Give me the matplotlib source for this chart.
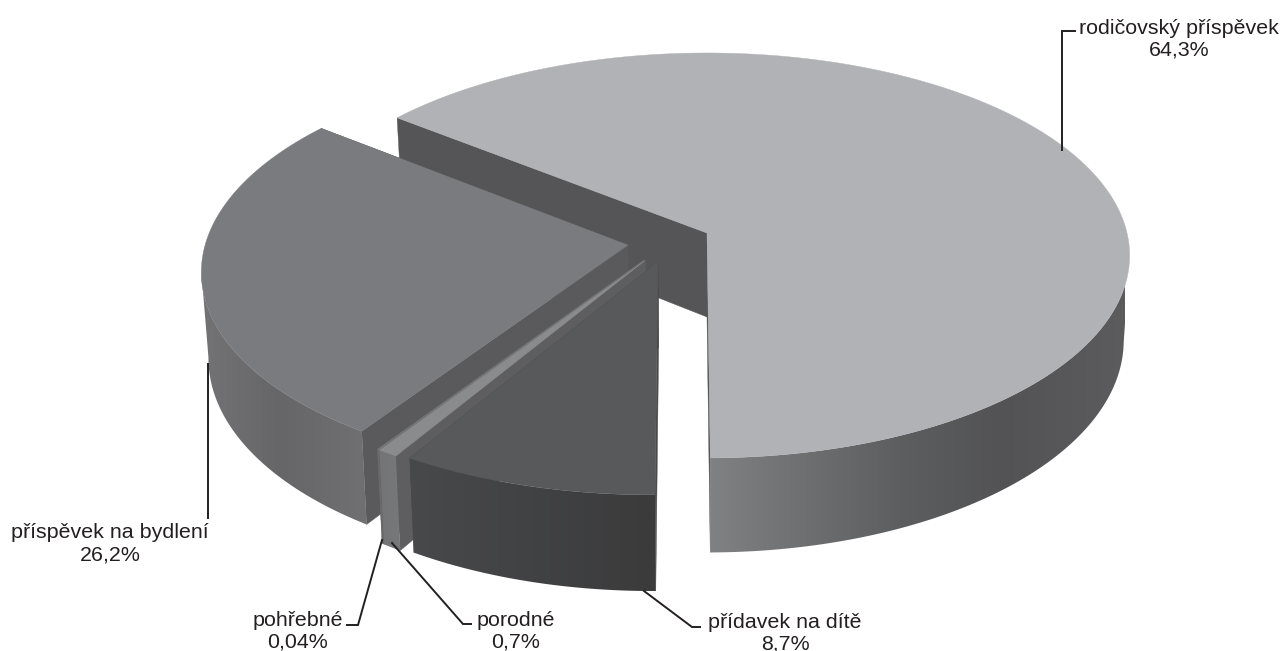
import numpy as np
import matplotlib
matplotlib.use('Agg')
import matplotlib.pyplot as plt
from matplotlib.patches import Polygon
from matplotlib.colors import to_rgb

# clockwise from the back-left cut
names = ['rodičovský příspěvek', 'přídavek na dítě', 'porodné', 'pohřebné', 'příspěvek na bydlení']
labels = ['64,3%', '8,7%', '0,7%', '0,04%', '26,2%']
shares = [64.3, 8.7, 0.7, 0.04, 26.2]

# explode of each slice on the pie plane
du = [0.0, -0.115, -0.145, -0.147, -0.187]
dv = [0.0, -0.143, -0.135, -0.133, -0.06]

top_colors = ['#b1b2b5', '#58595b', '#8a8b8d', '#77787a', '#7a7b7e']
cut_colors = ['#555557', '#4a4a4c', '#5e5e60', '#6a6a6c', '#5a5a5c']
wall_colors = [
    [(710, '#808183'), (800, '#6f7072'), (900, '#5d5e60'), (1000, '#535355'), (1129, '#5c5c5e')],
    [(410, '#48494b'), (655, '#3b3b3c')],
    [(380, '#737476'), (400, '#77787a')],
    [(375, '#6a6a6c'), (385, '#6a6a6c')],
    [(201, '#737375'), (280, '#666668'), (365, '#707072')],
]

CX, CY = 707, 233
RX, RY = 420, 200
PERSP = 0.111
DEPTH = 84
TILT = 0.014
START = 180 - shares[0] / sum(shares) * 360 - 0.4


def project(u, v):
    den = 1 + PERSP * v
    return CX + RX * u / den, CY - RY * v / den, DEPTH / den


def lower(x, y, d):
    return x + (CX - x) * TILT, y + d


fig = plt.figure(figsize=(12.83, 6.51), dpi=100)
ax = fig.add_axes([0, 0, 1, 1])

edges = START + np.cumsum([0] + shares) / sum(shares) * 360
zorder = 1


def draw_slice(i):
    global zorder
    a = np.radians(np.linspace(edges[i], edges[i + 1], max(int(shares[i] * 6), 3)))
    px, py, pd = project(du[i] + np.sin(a), dv[i] + np.cos(a))
    bx, by = lower(px, py, pd)
    x0, y0, d0 = project(du[i], dv[i])
    bx0, by0 = lower(x0, y0, d0)

    # cut faces
    for k in (0, -1):
        ax.add_patch(Polygon([(x0, y0), (px[k], py[k]), (bx[k], by[k]), (bx0, by0)],
                             fc=cut_colors[i], ec=cut_colors[i], lw=0.3, zorder=zorder))
        zorder += 1

    # curved wall from the silhouette tangent round the front; shade runs along x
    front = np.cos(a) < -0.12
    wall = list(zip(px[front], py[front])) + list(zip(bx[front], by[front]))[::-1]
    wall_patch = Polygon(wall, transform=ax.transData, fc='none', ec='none')
    stops = wall_colors[i]
    xs = np.arange(int(px[front].min()) - 2, int(bx[front].max()) + 3)
    rgb = np.array([to_rgb(s[1]) for s in stops])
    grad = np.stack([np.interp(xs, [s[0] for s in stops], rgb[:, k]) for k in range(3)], axis=-1)
    im = ax.imshow(grad[np.newaxis, :, :], extent=[xs[0], xs[-1], by.max() + 2, py[front].min() - 2],
                   aspect='auto', interpolation='bilinear', zorder=zorder)
    im.set_clip_path(wall_patch)
    zorder += 1

    top = [(x0, y0)] + list(zip(px, py))
    ax.add_patch(Polygon(top, fc=top_colors[i], ec=top_colors[i], lw=0.3, zorder=zorder))
    zorder += 1


for i in [0, 4, 3, 2, 1]:
    draw_slice(i)

ax.set_xlim(0, 1283)
ax.set_ylim(651, 0)
ax.axis('off')

LINE = '#231f20'
leaders = [
    [(1062, 150), (1062, 31), (1075, 31)],
    [(644, 591), (692, 627), (700, 627)],
    [(392, 543), (463, 624), (471, 624)],
    [(382, 540), (358, 625), (347, 625)],
    [(208, 364), (208, 518)],
]
label_pos = [(1179, 39), (785, 633), (516, 631), (298, 631), (110, 544)]

for i in range(len(names)):
    xs, ys = zip(*leaders[i])
    ax.plot(xs, ys, color=LINE, lw=1.4, solid_joinstyle='miter', zorder=50)
    ax.text(label_pos[i][0], label_pos[i][1], names[i] + '\n' + labels[i], ha='center', va='center',
            family='Liberation Sans', fontsize=15.4, color=LINE, linespacing=1.2, zorder=51)

fig.savefig('out.png', dpi=100)
